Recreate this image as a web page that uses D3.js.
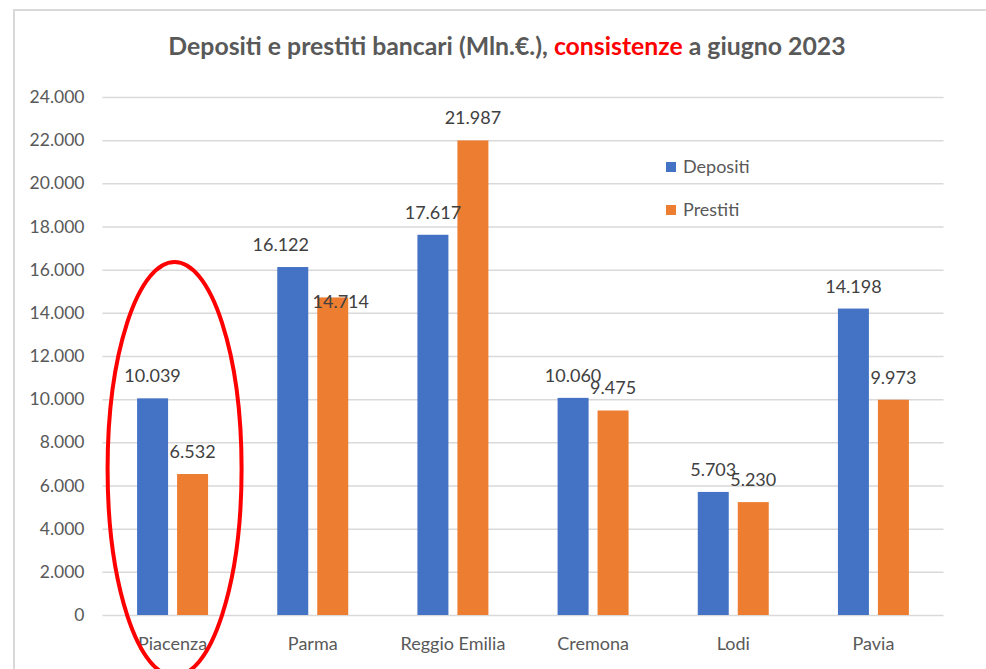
<!DOCTYPE html>
<html>
<head>
<meta charset="utf-8">
<script src="https://cdn.jsdelivr.net/npm/d3@7"></script>
<style>
  html, body { margin: 0; padding: 0; background: #fff; }
  svg { display: block; font-family: Lato, "Liberation Sans", sans-serif; }
</style>
</head>
<body>
<div id="chart"></div>
<script>
var categories = ['Piacenza', 'Parma', 'Reggio Emilia', 'Cremona', 'Lodi', 'Pavia']
var seriesNames = ['Depositi', 'Prestiti']
var depositi = [10039, 16122, 17617, 10060, 5703, 14198]
var prestiti = [6532, 14714, 21987, 9475, 5230, 9973]
var yTicks = [0, 2000, 4000, 6000, 8000, 10000, 12000, 14000, 16000, 18000, 20000, 22000, 24000]

var colors = { Depositi: '#4472C4', Prestiti: '#ED7D31' }

// a couple of data labels were dragged by hand in the original
var labelNudge = { 'Parma-Depositi': [-12, 0], 'Parma-Prestiti': [8, 27] }

App = {}

App.makeChart = function() {
  var width = 986
    , height = 669
    , fmt = d3.formatLocale({ decimal: ',', thousands: '.', grouping: [3], currency: ['', '€'] }).format(',d')
    , svg = d3.select('#chart').append('svg')
      .attr('width', width)
      .attr('height', height)
    , x0 = d3.scaleBand()
      .domain(categories)
      .range([102.5, 943.5])
    , x1 = d3.scaleBand()
      .domain(seriesNames)
      .range([0, x0.bandwidth()])
      .paddingInner(0.225)
      .paddingOuter(0.865)
    , y = d3.scaleLinear()
      .domain([0, 24000])
      .range([615, 97])

  var rows = categories.map(function(c, i) {
    return { cat: c, values: [
      { cat: c, name: 'Depositi', value: depositi[i] },
      { cat: c, name: 'Prestiti', value: prestiti[i] }
    ] }
  })

  function nudge(d, k) {
    var n = labelNudge[d.cat + '-' + d.name]
    return n ? n[k] : 0
  }

  // chart frame
  svg.append('rect')
  .attr('x', 14)
  .attr('y', 10)
  .attr('width', 1000)
  .attr('height', 700)
  .attr('fill', 'none')
  .attr('stroke', '#d9d9d9')
  .attr('stroke-width', 2)

  // title
  var title = svg.append('text')
    .attr('x', 507)
    .attr('y', 55)
    .attr('text-anchor', 'middle')
    .attr('font-size', 24.8)
    .attr('font-weight', 'bold')
    .attr('fill', '#595959')
  title.append('tspan').text('Depositi e prestiti bancari (Mln.€.), ')
  title.append('tspan').attr('fill', '#ff0000').text('consistenze')
  title.append('tspan').text(' a giugno 2023')

  // y axis with gridlines
  var yAxis = d3.axisLeft(y)
    .tickValues(yTicks)
    .tickSize(-(x0.range()[1] - x0.range()[0]))
    .tickPadding(18)
    .tickFormat(fmt)

  var gy = svg.append('g')
    .attr('transform', 'translate(' + x0.range()[0] + ',0)')
    .call(yAxis)
  gy.select('.domain').remove()
  gy.selectAll('.tick line')
  .attr('stroke', '#d9d9d9')
  .attr('stroke-width', 1.5)
  gy.selectAll('.tick text')
  .attr('font-size', 17.5)
  .attr('fill', '#595959')
  .attr('font-family', 'Lato, sans-serif')

  // x axis labels
  var xAxis = d3.axisBottom(x0).tickSize(0).tickPadding(0)
  var gx = svg.append('g')
    .attr('transform', 'translate(0,' + y(0) + ')')
    .call(xAxis)
  gx.select('.domain').remove()
  gx.selectAll('.tick text')
  .attr('y', 35)
  .attr('dy', 0)
  .attr('font-size', 18)
  .attr('fill', '#595959')
  .attr('font-family', 'Lato, sans-serif')

  // bars
  var groups = svg.selectAll('g.cat').data(rows).enter().append('g')
    .attr('class', 'cat')
    .attr('transform', function(d) { return 'translate(' + x0(d.cat) + ',0)' })

  groups.selectAll('rect').data(function(d) { return d.values }).enter().append('rect')
  .attr('x', function(d) { return x1(d.name) })
  .attr('y', function(d) { return y(d.value) })
  .attr('width', x1.bandwidth())
  .attr('height', function(d) { return y(0) - y(d.value) })
  .attr('fill', function(d) { return colors[d.name] })

  // value labels
  groups.selectAll('text.val').data(function(d) { return d.values }).enter().append('text')
  .attr('class', 'val')
  .attr('x', function(d) { return x1(d.name) + x1.bandwidth() / 2 + nudge(d, 0) })
  .attr('y', function(d) { return y(d.value) - 16 + nudge(d, 1) })
  .attr('text-anchor', 'middle')
  .attr('font-size', 18)
  .attr('fill', '#404040')
  .text(function(d) { return fmt(d.value) })

  // legend
  var legend = svg.selectAll('g.legend').data(seriesNames).enter().append('g')
    .attr('class', 'legend')
    .attr('transform', function(d, i) { return 'translate(666,' + (167 + i * 43) + ')' })
  legend.append('rect')
  .attr('x', 0)
  .attr('y', -5)
  .attr('width', 10)
  .attr('height', 10)
  .attr('fill', function(d) { return colors[d] })
  legend.append('text')
  .attr('x', 17)
  .attr('dy', '0.35em')
  .attr('font-size', 18)
  .attr('fill', '#595959')
  .text(function(d) { return d })

  // red highlight round Piacenza
  svg.append('ellipse')
  .attr('cx', x0('Piacenza') + x0.bandwidth() / 2 + 2)
  .attr('cy', 469)
  .attr('rx', 67)
  .attr('ry', 207)
  .attr('fill', 'none')
  .attr('stroke', '#ff0000')
  .attr('stroke-width', 4)
}

App.makeChart()
</script>
</body>
</html>
